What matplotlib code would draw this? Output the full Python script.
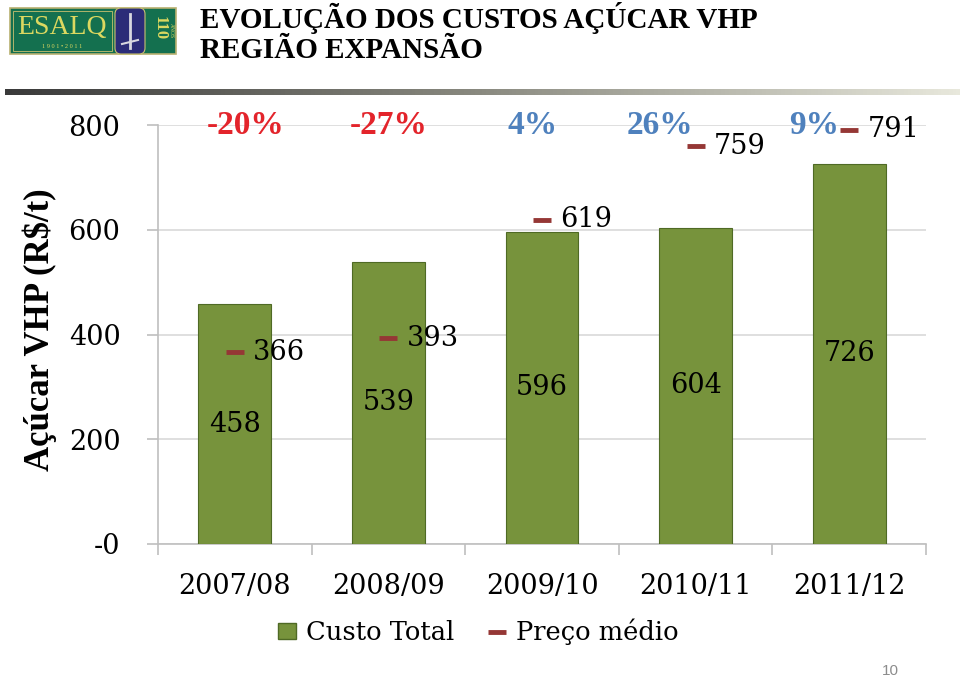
import matplotlib
matplotlib.use("Agg")
import matplotlib.pyplot as plt
import numpy as np
from matplotlib.patches import Rectangle, Patch, FancyBboxPatch
from matplotlib.lines import Line2D

categories = ["2007/08", "2008/09", "2009/10", "2010/11", "2011/12"]
custo_total = [458, 539, 596, 604, 726]
preco_medio = [366, 393, 619, 759, 791]
variacao = ["-20%", "-27%", "4%", "26%", "9%"]
yticks = [0, 200, 400, 600, 800]
ytick_labels = ["-0", "200", "400", "600", "800"]

SERIF = ["Liberation Serif", "DejaVu Serif"]
NUM = ["DejaVu Serif"]
W, H = 960, 678
fig = plt.figure(figsize=(9.6, 6.78), dpi=100)

def fx(px):
    return px / W

def fy(py):
    return 1 - py / H

# Title
fig.text(fx(200), fy(2), "EVOLUÇÃO DOS CUSTOS AÇÚCAR VHP", ha="left", va="top",
         fontsize=21, fontweight="bold", family=SERIF, color="black")
fig.text(fx(200), fy(37), "REGIÃO EXPANSÃO", ha="left", va="top",
         fontsize=21, fontweight="bold", family=SERIF, color="black")

# Logo (approximation)
logo = fig.add_axes([fx(8), fy(56), fx(170), fy(0) - fy(50)])
logo.set_xlim(0, 170)
logo.set_ylim(50, 0)
logo.axis("off")
logo.add_patch(Rectangle((2, 2), 166, 46, facecolor="#14704f", edgecolor="#b8b070", lw=1.2))
logo.add_patch(Rectangle((5, 5), 99, 40, facecolor="none", edgecolor="#c8c070", lw=0.6))
logo.text(54, 21, "ESALQ", ha="center", va="center", fontsize=20, color="#dcd860", family=SERIF)
logo.text(54, 40, "1 9 0 1 • 2 0 1 1", ha="center", va="center", fontsize=4.5, color="#dcd860", family=SERIF)
logo.add_patch(FancyBboxPatch((107, 2), 30, 46, boxstyle="round,pad=0,rounding_size=6",
                              facecolor="#2b2c78", edgecolor="#c8c070", lw=0.8))
logo.plot([122, 122], [8, 42], color="#d8d8e0", lw=2)
logo.plot([114, 130], [38, 34], color="#d8d8e0", lw=1.5)
logo.text(152, 22, "110", ha="center", va="center", fontsize=12, color="#dcd860", family=SERIF,
          rotation=-90, fontweight="bold")
logo.text(163, 25, "ANOS", ha="center", va="center", fontsize=4, color="#dcd860", family=SERIF,
          rotation=-90)

# Gradient separator
gax = fig.add_axes([fx(5), fy(95), fx(955), fy(89) - fy(95)])
grad = np.linspace(0, 1, 256)
cmap = matplotlib.colors.LinearSegmentedColormap.from_list("g", ["#3a3a3a", "#8a8a80", "#e8e8dc"])
gax.imshow(grad[None, :], aspect="auto", cmap=cmap, extent=[0, 1, 0, 1])
gax.axis("off")

# Main chart
ax = fig.add_axes([fx(158), fy(544), fx(926) - fx(158), fy(125) - fy(544)])
x = np.arange(len(categories))
ax.bar(x, custo_total, width=0.475, color="#77933C", edgecolor="#4f6a25", linewidth=0.8, zorder=3)
ax.plot(x, preco_medio, linestyle="none", marker="_", markersize=13, markeredgewidth=3.5,
        color="#953735", zorder=4)

for xi, v in zip(x, custo_total):
    ax.text(xi, v / 2, str(v), ha="center", va="center", fontsize=19.5, family=NUM, zorder=5)
for xi, v in zip(x, preco_medio):
    ax.annotate(str(v), (xi, v), xytext=(13, 0), textcoords="offset points",
                ha="left", va="center", fontsize=19.5, family=NUM, zorder=5)

pct_offsets = [0.07, 0.0, -0.06, -0.23, -0.23]
for xi, lab, off in zip(x, variacao, pct_offsets):
    col = "#E3242B" if lab.startswith("-") else "#4F81BD"
    ax.text(xi + off, 800, lab, ha="center", va="center", fontsize=24, fontweight="bold",
            family=SERIF, color=col, zorder=5)

ax.set_xlim(-0.5, len(categories) - 0.5)
ax.set_ylim(0, 800)
ax.set_yticks(yticks)
ax.set_yticklabels(ytick_labels, fontsize=19.5, family=NUM)
ax.set_xticks(x)
ax.set_xticklabels(categories, fontsize=19.5, family=NUM)
ax.set_xticks(np.arange(-0.5, len(categories)), minor=True)
ax.tick_params(axis="x", which="major", length=0, pad=21)
ax.tick_params(axis="x", which="minor", length=8, color="#bfbfbf", width=1.2)
ax.tick_params(axis="y", length=8, color="#bfbfbf", width=1.2, pad=19)
ax.grid(axis="y", color="#d9d9d9", linewidth=1.2, zorder=0)
ax.set_axisbelow(True)
for s in ["top", "right"]:
    ax.spines[s].set_visible(False)
ax.spines["left"].set_color("#bfbfbf")
ax.spines["bottom"].set_color("#bfbfbf")
ax.spines["left"].set_linewidth(1.2)
ax.spines["bottom"].set_linewidth(1.2)

fig.text(fx(40), fy(330), "Açúcar VHP (R$/t)", rotation=90, ha="center", va="center",
         fontsize=25, fontweight="bold", family=SERIF)

handles = [Patch(facecolor="#77933C", edgecolor="#4f6a25", label="Custo Total"),
           Line2D([], [], linestyle="none", marker="_", markersize=13, markeredgewidth=3.5,
                  color="#953735", label="Preço médio")]
fig.legend(handles=handles, loc="center", bbox_to_anchor=(fx(478), fy(632)), ncol=2,
           frameon=False, prop={"family": NUM, "size": 18.5}, handlelength=0.7,
           handleheight=0.6, handletextpad=0.4, columnspacing=1.3)

fig.text(fx(890), fy(671), "10", ha="center", va="center", fontsize=11, color="#8c8c8c",
         family=["Liberation Sans", "DejaVu Sans"])

fig.savefig("out.png", dpi=100)
